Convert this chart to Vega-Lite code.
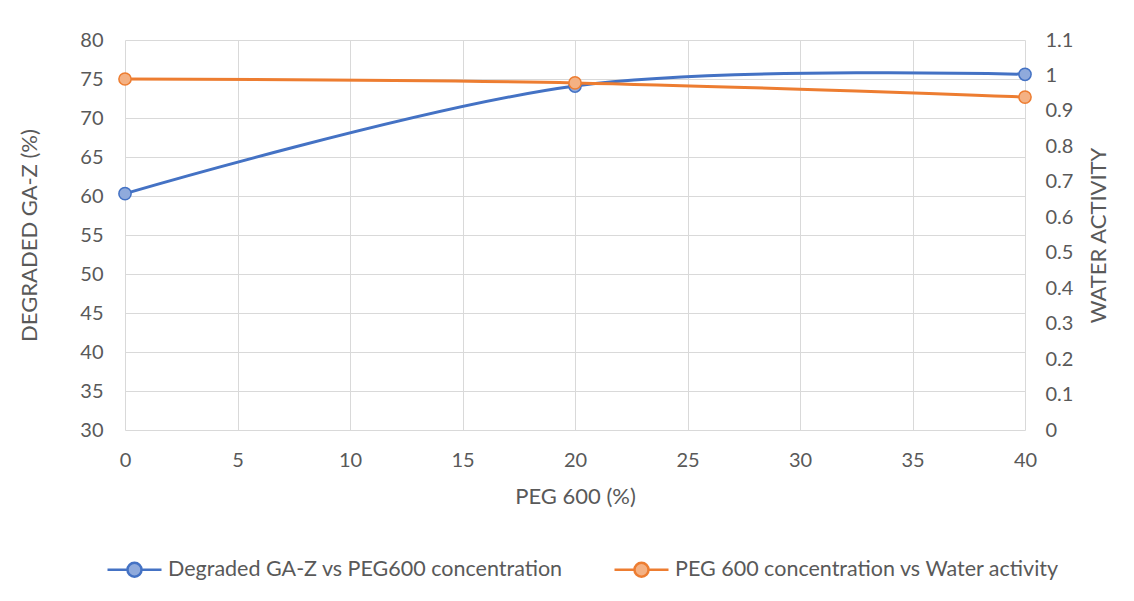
{
  "$schema": "https://vega.github.io/schema/vega-lite/v6.json",
  "autosize": "none",
  "width": 900,
  "height": 390,
  "padding": {"left": 125, "top": 40, "right": 109, "bottom": 171},
  "background": "white",
  "config": {
    "font": "Lato",
    "view": {"stroke": null},
    "axis": {
      "labelColor": "#595959",
      "titleColor": "#595959",
      "labelFontSize": 20,
      "titleFontSize": 22,
      "titleFontWeight": "normal",
      "labelFont": "Lato",
      "titleFont": "Lato",
      "domain": false,
      "ticks": false,
      "gridColor": "#d9d9d9",
      "gridWidth": 1
    }
  },
  "data": {
    "values": [
      {"peg": 0, "series": "Degraded GA-Z vs PEG600 concentration", "value": 60.3},
      {"peg": 20, "series": "Degraded GA-Z vs PEG600 concentration", "value": 74.1},
      {"peg": 40, "series": "Degraded GA-Z vs PEG600 concentration", "value": 75.6},
      {"peg": 0, "series": "PEG 600 concentration vs Water activity", "value": 0.99},
      {"peg": 20, "series": "PEG 600 concentration vs Water activity", "value": 0.979},
      {"peg": 40, "series": "PEG 600 concentration vs Water activity", "value": 0.939}
    ]
  },
  "encoding": {
    "x": {
      "field": "peg",
      "type": "quantitative",
      "scale": {"domain": [0, 40], "nice": false},
      "axis": {
        "values": [0, 5, 10, 15, 20, 25, 30, 35, 40],
        "title": "PEG 600 (%)",
        "labelPadding": 20,
        "labelFlush": false,
        "titlePadding": 16,
        "grid": true
      }
    }
  },
  "layer": [
    {
      "transform": [{"filter": "datum.series == 'Degraded GA-Z vs PEG600 concentration'"}],
      "encoding": {
        "y": {
          "field": "value",
          "type": "quantitative",
          "scale": {"domain": [30, 80], "nice": false, "zero": false},
          "axis": {
            "orient": "left",
            "values": [30, 35, 40, 45, 50, 55, 60, 65, 70, 75, 80],
            "title": "DEGRADED GA-Z (%)",
            "labelPadding": 22,
            "titlePadding": 38,
            "grid": true
          }
        }
      },
      "layer": [
        {
          "mark": {"type": "line", "interpolate": "cardinal", "strokeWidth": 3},
          "encoding": {
            "color": {
              "field": "series",
              "type": "nominal",
              "scale": {
                "domain": ["Degraded GA-Z vs PEG600 concentration", "PEG 600 concentration vs Water activity"],
                "range": ["#4472C4", "#ED7D31"]
              },
              "legend": {
                "orient": "none",
                "legendX": -19,
                "legendY": 501,
                "direction": "horizontal",
                "title": null,
                "symbolType": "M-1,0H-0.26M0.26,0H1M-0.26,0A0.26,0.26,0,1,1,0.26,0A0.26,0.26,0,1,1,-0.26,0Z",
                "symbolSize": 2916,
                "symbolStrokeWidth": 2.5,
                "labelFontSize": 21.5,
                "labelColor": "#595959",
                "labelFont": "Lato",
                "labelOffset": 5,
                "columnPadding": 46,
                "labelLimit": 500,
                "encode": {
                  "symbols": {
                    "update": {
                      "fill": {"signal": "datum.value == 'Degraded GA-Z vs PEG600 concentration' ? '#8FAADC' : '#F4B183'"},
                      "fillOpacity": {"value": 1}
                    }
                  }
                }
              }
            }
          }
        },
        {
          "mark": {"type": "point", "filled": true, "fill": "#8FAADC", "stroke": "#4472C4", "strokeWidth": 1.5, "size": 150, "opacity": 1}
        }
      ]
    },
    {
      "transform": [{"filter": "datum.series == 'PEG 600 concentration vs Water activity'"}],
      "encoding": {
        "y": {
          "field": "value",
          "type": "quantitative",
          "scale": {"domain": [0, 1.1], "nice": false},
          "axis": {
            "orient": "right",
            "values": [0, 0.1, 0.2, 0.3, 0.4, 0.5, 0.6, 0.7, 0.8, 0.9, 1, 1.1],
            "format": ".1~f",
            "title": "WATER ACTIVITY",
            "titleAngle": -90,
            "titleBaseline": "top",
            "labelPadding": 20,
            "titlePadding": 16,
            "grid": false
          }
        }
      },
      "layer": [
        {
          "mark": {"type": "line", "interpolate": "cardinal", "strokeWidth": 3},
          "encoding": {
            "color": {"field": "series", "type": "nominal"}
          }
        },
        {
          "mark": {"type": "point", "filled": true, "fill": "#F4B183", "stroke": "#ED7D31", "strokeWidth": 1.5, "size": 150, "opacity": 1}
        }
      ]
    }
  ],
  "resolve": {"scale": {"y": "independent"}}
}
